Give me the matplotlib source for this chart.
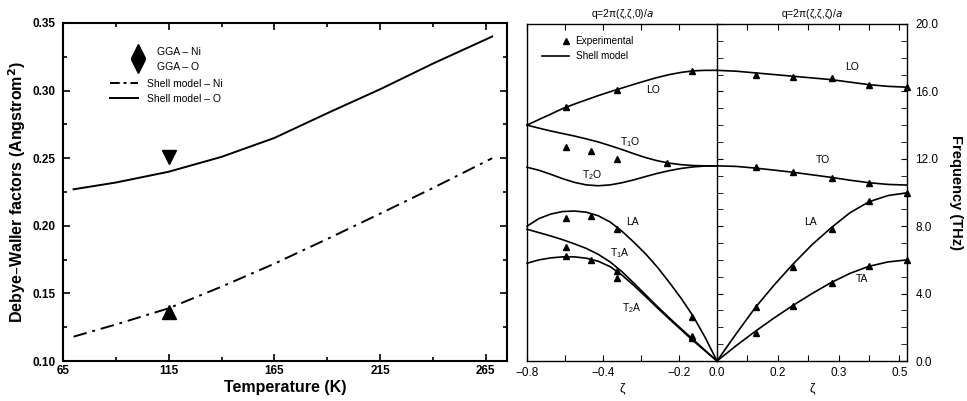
import matplotlib
matplotlib.use('Agg')
import matplotlib.pyplot as plt
from matplotlib.lines import Line2D
from matplotlib.ticker import MultipleLocator, FixedLocator, FormatStrFormatter

plt.rcParams['font.family'] = ['Liberation Sans', 'DejaVu Sans']
plt.rcParams['mathtext.default'] = 'regular'

# ---------------- Left panel data (Debye-Waller factors) ----------------
temp_model = [70, 90, 115, 140, 165, 191, 215, 240, 268]
dw_shell_ni = [0.118, 0.127, 0.139, 0.155, 0.172, 0.191, 0.209, 0.228, 0.250]
dw_shell_o = [0.227, 0.232, 0.240, 0.251, 0.265, 0.284, 0.301, 0.320, 0.340]
temp_gga = [115]
dw_gga_ni = [0.1366]
dw_gga_o = [0.251]

# ---------------- Right panel data (phonon dispersion) ----------------
# left part: q = 2pi(z,z,0)/a
zl = [-0.8, -0.75, -0.7, -0.65, -0.6, -0.55, -0.5, -0.45, -0.4,
      -0.35, -0.3, -0.25, -0.2, -0.15, -0.1, -0.05, 0.0]
f_lo_l = [14.0, 14.33, 14.65, 14.98, 15.25, 15.5, 15.75, 15.98, 16.2,
          16.42, 16.63, 16.83, 17.0, 17.13, 17.22, 17.25, 17.25]
f_t1o = [14.0, 13.82, 13.65, 13.5, 13.35, 13.18, 13.0, 12.78, 12.55,
         12.3, 12.07, 11.88, 11.74, 11.65, 11.6, 11.58, 11.58]
f_t2o = [11.5, 11.32, 11.08, 10.82, 10.6, 10.45, 10.4, 10.45, 10.58,
         10.75, 10.95, 11.14, 11.3, 11.43, 11.52, 11.57, 11.58]
f_la_l = [8.0, 8.45, 8.72, 8.87, 8.9, 8.83, 8.62, 8.25, 7.7,
          7.05, 6.35, 5.55, 4.65, 3.7, 2.65, 1.4, 0.0]
f_t1a = [7.82, 7.62, 7.42, 7.2, 6.95, 6.68, 6.33, 5.88, 5.3,
         4.62, 3.92, 3.22, 2.55, 1.9, 1.27, 0.63, 0.0]
f_t2a = [5.8, 6.0, 6.12, 6.18, 6.18, 6.1, 5.92, 5.6, 5.1,
         4.48, 3.82, 3.14, 2.48, 1.84, 1.2, 0.6, 0.0]

exp_zl = [-0.636, -0.421, -0.105,
          -0.636, -0.531, -0.421, -0.211,
          -0.636, -0.531, -0.421, -0.105,
          -0.636, -0.421, -0.105,
          -0.636, -0.531, -0.421, -0.105]
exp_fl = [15.07, 16.08, 17.2,
          12.7, 12.47, 11.97, 11.73,
          8.5, 8.6, 7.83, 2.6,
          6.77, 5.35, 1.48,
          6.23, 6.0, 4.91, 1.36]

# right part: q = 2pi(z,z,z)/a
zr = [0.0, 0.05, 0.1, 0.15, 0.2, 0.25, 0.3, 0.35, 0.4, 0.45, 0.5]
f_lo_r = [17.25, 17.2, 17.1, 17.0, 16.9, 16.8, 16.7, 16.55, 16.4, 16.3, 16.25]
f_to_r = [11.58, 11.55, 11.45, 11.33, 11.2, 11.05, 10.9, 10.73, 10.58, 10.48, 10.44]
f_la_r = [0.0, 1.6, 3.15, 4.5, 5.75, 6.9, 7.9, 8.8, 9.45, 9.82, 9.98]
f_ta_r = [0.0, 0.9, 1.75, 2.55, 3.3, 4.0, 4.65, 5.2, 5.62, 5.88, 6.0]

exp_zr = [0.103, 0.2, 0.302, 0.4, 0.5,
          0.103, 0.2, 0.302, 0.4,
          0.103, 0.2, 0.302, 0.4, 0.5,
          0.103, 0.2, 0.302, 0.4, 0.5]
exp_fr = [17.0, 16.86, 16.8, 16.38, 16.26,
          11.53, 11.23, 10.84, 10.55,
          3.2, 5.58, 7.83, 9.5, 9.97,
          1.66, 3.26, 4.6, 5.64, 6.0]

xt_left_pos = [-0.8, -0.64, -0.48, -0.32, -0.16, 0.0]
xt_left_lab = ['\u22120.8', '', '\u22120.4', '', '\u22120.2', '0.0']
xt_right_pos = [0.08, 0.16, 0.24, 0.32, 0.40, 0.48]
xt_right_lab = ['', '0.2', '', '0.3', '', '0.5']

branch_labels_l = [('LO', -0.269, 16.08), ('T$_1$O', -0.366, 13.0), ('T$_2$O', -0.526, 11.04),
                   ('LA', -0.358, 8.25), ('T$_1$A', -0.408, 6.4), ('T$_2$A', -0.358, 3.15)]
branch_labels_r = [('LO', 0.355, 17.45), ('TO', 0.279, 11.93), ('LA', 0.247, 8.25), ('TA', 0.382, 4.87)]

W, H = 967, 401
fig = plt.figure(figsize=(W / 100, H / 100), dpi=100)

# ---------------- Left panel ----------------
ax1 = fig.add_axes([63 / W, 1 - 361 / H, 444 / W, 338 / H])
ax1.plot(temp_model, dw_shell_ni, color='black', lw=1.4, ls=(0, (7, 3, 1.5, 3)))
ax1.plot(temp_model, dw_shell_o, color='black', lw=1.4)
ax1.plot(temp_gga, dw_gga_ni, ls='none', marker='^', ms=10, color='black')
ax1.plot(temp_gga, dw_gga_o, ls='none', marker='v', ms=10, color='black')
ax1.set_xlim(65, 275)
ax1.set_ylim(0.10, 0.35)
ax1.xaxis.set_major_locator(FixedLocator([65, 115, 165, 215, 265]))
ax1.xaxis.set_minor_locator(FixedLocator([90, 140, 190, 240]))
ax1.yaxis.set_major_locator(MultipleLocator(0.05))
ax1.yaxis.set_minor_locator(MultipleLocator(0.025))
ax1.yaxis.set_major_formatter(FormatStrFormatter('%.2f'))
ax1.tick_params(which='both', direction='in', top=True, right=True, width=1.2)
ax1.tick_params(which='major', length=5)
ax1.tick_params(which='minor', length=3)
ax1.tick_params(axis='y', pad=5.5)
ax1.tick_params(axis='x', pad=3)
for lab in ax1.get_xticklabels() + ax1.get_yticklabels():
    lab.set_fontweight('bold')
    lab.set_fontsize(8.5)
for s in ax1.spines.values():
    s.set_linewidth(1.5)
ax1.set_xlabel('Temperature (K)', fontsize=11.5, fontweight='bold', labelpad=2)
ax1.set_ylabel('Debye\u2013Waller factors (Angstrom$^\\mathbf{2}$)', fontsize=11.5,
               fontweight='bold', labelpad=3)

fs1 = 7.5
h_gga = [Line2D([], [], ls='none', marker='^', ms=10, color='black'),
         Line2D([], [], ls='none', marker='v', ms=10, color='black')]
leg1 = ax1.legend(h_gga, ['GGA \u2013 Ni', 'GGA \u2013 O'], loc='upper left',
                  bbox_to_anchor=(127.6 / W, 1 - 47 / H), bbox_transform=fig.transFigure,
                  frameon=False, fontsize=fs1, handlelength=2.0, handletextpad=0.8,
                  borderpad=0, borderaxespad=0, labelspacing=0.45)
ax1.add_artist(leg1)
h_sm = [Line2D([], [], color='black', lw=1.4, ls=(0, (5, 2, 1.5, 2))),
        Line2D([], [], color='black', lw=1.4)]
ax1.legend(h_sm, ['Shell model \u2013 Ni', 'Shell model \u2013 O'], loc='upper left',
           bbox_to_anchor=(110 / W, 1 - 79 / H), bbox_transform=fig.transFigure,
           frameon=False, fontsize=fs1, handlelength=2.69, handletextpad=0.86,
           borderpad=0, borderaxespad=0, labelspacing=0.45)

# ---------------- Right panel ----------------
ax2 = fig.add_axes([527 / W, 1 - 361 / H, 190 / W, 337 / H])
ax3 = fig.add_axes([717 / W, 1 - 361 / H, 190 / W, 337 / H])
lw = 1.2
for f in [f_lo_l, f_t1o, f_t2o, f_la_l, f_t1a, f_t2a]:
    ax2.plot(zl, f, color='black', lw=lw, clip_on=False)
ax2.plot(exp_zl, exp_fl, ls='none', marker='^', ms=5, color='black')
for f in [f_lo_r, f_to_r, f_la_r, f_ta_r]:
    ax3.plot(zr, f, color='black', lw=lw, clip_on=False)
ax3.plot(exp_zr, exp_fr, ls='none', marker='^', ms=5, color='black', clip_on=False)

ax2.set_xlim(-0.8, 0.0)
ax3.set_xlim(0.0, 0.5)
for ax in (ax2, ax3):
    ax.set_ylim(0, 20)
    for s in ax.spines.values():
        s.set_linewidth(1.0)
    ax.set_xlabel('\u03b6', fontsize=9, labelpad=3)

ax2.set_xticks(xt_left_pos)
ax2.set_xticklabels(xt_left_lab)
ax2.tick_params(axis='x', direction='in', top=True, length=4, labelsize=8.5, pad=4)
ax2.tick_params(axis='y', left=False, right=False, labelleft=False)
ax2.spines['right'].set_visible(False)

ax3.set_xticks(xt_right_pos)
ax3.set_xticklabels(xt_right_lab)
ax3.tick_params(axis='x', direction='in', top=True, length=4, labelsize=8.5, pad=4)
ax3.yaxis.set_major_locator(MultipleLocator(4))
ax3.yaxis.set_minor_locator(MultipleLocator(1))
ax3.yaxis.set_major_formatter(FormatStrFormatter('%.1f'))
ax3.tick_params(axis='y', which='both', direction='in', left=True, right=True,
                labelleft=False, labelright=True, length=4, labelsize=8.5, pad=6)
ax3.yaxis.set_label_position('right')
ax3.set_ylabel('Frequency (THz)', fontsize=10.5, fontweight='bold', rotation=270, labelpad=18)

ax2.set_title('q=2\u03c0(\u03b6,\u03b6,0)/$\\mathit{a}$', fontsize=7.5, pad=5)
ax3.set_title('q=2\u03c0(\u03b6,\u03b6,\u03b6)/$\\mathit{a}$', fontsize=7.5, pad=5)

for t, z, f in branch_labels_l:
    ax2.text(z, f, t, fontsize=7.5, ha='center', va='center')
for t, z, f in branch_labels_r:
    ax3.text(z, f, t, fontsize=7.5, ha='center', va='center')

fs2 = 7.2
leg2 = ax2.legend([Line2D([], [], ls='none', marker='^', ms=5, color='black')], ['Experimental'],
                  loc='upper left', bbox_to_anchor=(561 / W, 1 - 36 / H),
                  bbox_transform=fig.transFigure, frameon=False, fontsize=fs2,
                  handlelength=1.0, handletextpad=0.43, borderpad=0, borderaxespad=0)
ax2.add_artist(leg2)
ax2.legend([Line2D([], [], color='black', lw=lw)], ['Shell model'],
           loc='upper left', bbox_to_anchor=(542 / W, 1 - 51 / H),
           bbox_transform=fig.transFigure, frameon=False, fontsize=fs2,
           handlelength=2.67, handletextpad=0.72, borderpad=0, borderaxespad=0)

fig.savefig('out.png', dpi=100)
